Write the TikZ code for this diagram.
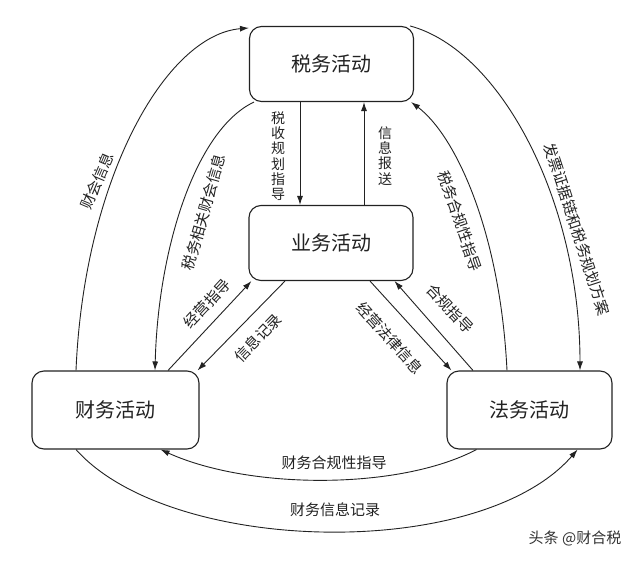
\documentclass[tikz,border=0pt]{standalone}
\usepackage{fontspec}
\setmainfont{Noto Sans CJK SC}
\usepackage{tikz}
\usetikzlibrary{arrows.meta,calc}
\definecolor{ink}{HTML}{222222}
\definecolor{wmark}{HTML}{333333}
\tikzset{
  box/.style={draw=ink, line width=1.1pt, rounded corners=12pt, minimum width=164pt, minimum height=75pt, inner sep=0pt, font=\fontsize{20}{22}\selectfont},
  flow/.style={draw=ink, line width=0.9pt, -{Latex[length=9pt,width=6pt]}},
  lab/.style={inner sep=1pt, font=\fontsize{15}{16}\selectfont},
  labv/.style={lab, align=center, font=\fontsize{14}{15.3}\selectfont},
  every node/.style={text=ink}
}

\begin{document}
\begin{tikzpicture}[x=1pt,y=-1pt]
  \fill[white] (0,0) rectangle (640,562);
  \useasboundingbox (0,0) rectangle (640,562);

  \node[box] (tax) at (331.5,64) {税务活动};
  \node[box] (biz) at (331,243) {业务活动};
  \node[box,minimum width=167pt,minimum height=78pt] (fin) at (115.5,410) {财务活动};
  \node[box,minimum width=165pt,minimum height=78pt] (law) at (529.5,410) {法务活动};

  % tax <-> biz
  \draw[flow] ([xshift=-31.5pt]tax.south) -- ([xshift=-31pt]biz.north);
  \draw[flow] ([xshift=33pt]biz.north) -- ([xshift=32.5pt]tax.south);

  % biz <-> fin, biz <-> law
  \draw[flow] ([xshift=52.5pt]fin.north) -- ([xshift=3pt]biz.south west);
  \draw[flow] ([xshift=-46pt]biz.south) -- ([xshift=-2pt]fin.north east);
  \draw[flow] ([xshift=39pt]biz.south) -- ([xshift=5pt]law.north west);
  \draw[flow] ([xshift=-56.5pt]law.north) -- ([xshift=-19pt]biz.south east);

  % outer arcs
  \draw[flow] ([xshift=-39.5pt]fin.north) .. controls (84,180) and (165,35) .. ([yshift=-2pt]tax.north west);
  \draw[flow] ([xshift=5pt]tax.south west) .. controls (195,130) and (158,250) .. ([xshift=39.5pt]fin.north);
  \draw[flow] ([xshift=-4pt]tax.north east) .. controls (500,50) and (580,200) .. ([xshift=50.5pt]law.north);
  \draw[flow] ([xshift=-22.5pt]law.north) .. controls (500,230) and (455,135) .. ([xshift=-3pt]tax.south east);
  \draw[flow] ([xshift=30pt]law.south west) .. controls (400,490) and (250,490) .. ([xshift=-39pt]fin.south east);
  \draw[flow] ([xshift=-39.5pt]fin.south) .. controls (170,555) and (480,562) .. ([xshift=-35pt]law.south east);

  \node[lab,rotate=67] (lAcc) at (97,181) {财会信息};
  \node[lab,rotate=74] (lTaxAcc) at (204,212) {税务相关财会信息};
  \node[labv] (lPlan) at (278,156) {税\\收\\规\\划\\指\\导};
  \node[labv] (lReport) at (385,156) {信\\息\\报\\送};
  \node[lab,rotate=47] (lGuide) at (207,304) {经营指导};
  \node[lab,rotate=46] (lRecord) at (258,338) {信息记录};
  \node[lab,rotate=-48] (lLegal) at (390,338) {经营法律信息};
  \node[lab,rotate=-47] (lComply) at (450,309) {合规指导};
  \node[lab,rotate=-71] (lTaxComply) at (460,221) {税务合规性指导};
  \node[lab,rotate=-72] (lInvoice) at (577,229) {发票证据链和税务规划方案};
  \node[lab] (lFinComply) at (334,463) {财务合规性指导};
  \node[lab] (lFinRecord) at (335,510) {财务信息记录};
  \node[lab,text=wmark] (wm) at (575,538) {头条 @财合税};
\end{tikzpicture}
\end{document}
